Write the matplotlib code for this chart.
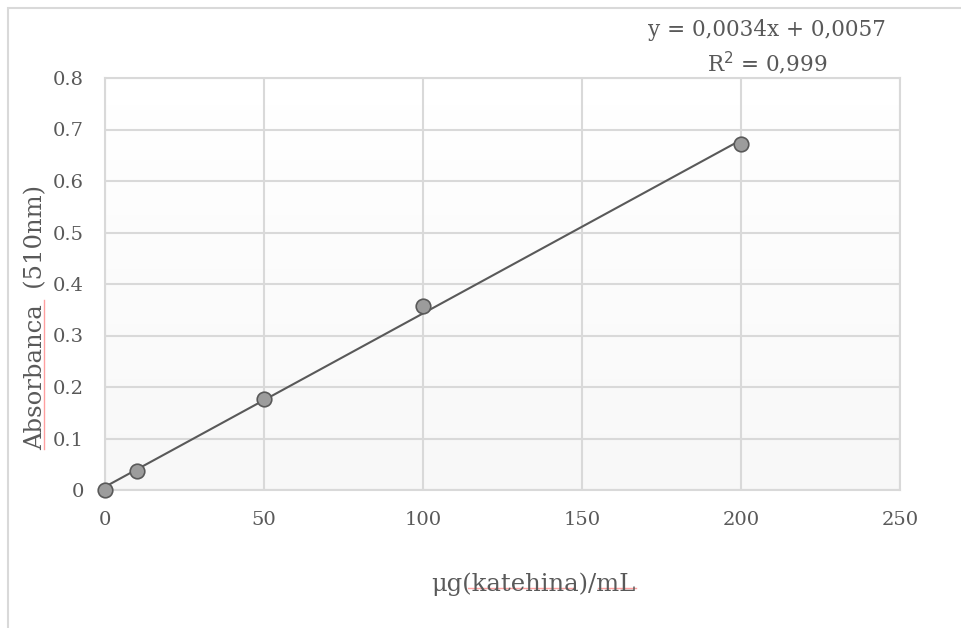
import numpy as np
import matplotlib.pyplot as plt
from matplotlib.patches import Rectangle
from matplotlib.lines import Line2D

conc = [0, 10, 50, 100, 200]
absorb = [0.0, 0.037, 0.177, 0.357, 0.672]
x_ticks = [0, 50, 100, 150, 200, 250]
y_ticks = [0, 0.1, 0.2, 0.3, 0.4, 0.5, 0.6, 0.7, 0.8]
y_labels = ['0', '0.1', '0.2', '0.3', '0.4', '0.5', '0.6', '0.7', '0.8']

plt.rcParams['font.family'] = ['DejaVu Serif']
txt = '#595959'
W, H = 961, 628

fig = plt.figure(figsize=(9.61, 6.28), dpi=100)
# chart border, only top and left sides visible in the crop
fig.patches.append(Rectangle((8 / W, -0.1), 1.2, 1 - 8 / H + 0.1, transform=fig.transFigure,
                             fill=False, edgecolor='#d9d9d9', linewidth=1.5))
ax = fig.add_axes([105 / W, 1 - 490 / H, 795 / W, 412 / H])

# gradient plot area: white at top, light grey at bottom
grad = np.linspace(0, 1, 256).reshape(-1, 1)
ax.imshow(grad, extent=[0, 250, 0, 0.8], aspect='auto', cmap='Greys_r',
          vmin=-16, vmax=1, zorder=0, origin='lower')

ax.set_xlim(0, 250)
ax.set_ylim(0, 0.8)
ax.set_xticks(x_ticks)
ax.set_yticks(y_ticks)
ax.set_yticklabels(y_labels)
ax.grid(True, color='#d9d9d9', linewidth=1.5, zorder=1)
for s in ax.spines.values():
    s.set_color('#d9d9d9')
    s.set_linewidth(1.5)
ax.tick_params(length=0, labelsize=14, colors=txt)
ax.tick_params(axis='x', pad=15)
ax.tick_params(axis='y', pad=15)

k, b = np.polyfit(conc, absorb, 1)
xs = np.array([0, 200])
ax.plot(xs, k * xs + b, color='#595959', linewidth=1.5, zorder=3)
ax.scatter(conc, absorb, s=110, color='#9c9c9c', edgecolor='#595959',
           linewidth=1.2, zorder=4, clip_on=False)

fig.text(533 / W, 1 - 584 / H, 'μg(katehina)/mL', ha='center', va='center',
         fontsize=17.5, color=txt)
fig.text(36 / W, 1 - 318 / H, 'Absorbanca  (510nm)', ha='center', va='center',
         rotation=90, fontsize=17.5, color=txt)
fig.text(767 / W, 1 - 30 / H, 'y = 0,0034x + 0,0057', ha='center', va='center',
         fontsize=15.5, color=txt)
fig.text(767 / W, 1 - 63 / H, 'R$^2$ = 0,999', ha='center', va='center',
         fontsize=15.5, color=txt)

# spell-check underlines from the screenshot
red = '#ff9f9f'
for x0, x1 in [(468, 573), (598, 636)]:
    fig.lines.append(Line2D([x0 / W, x1 / W], [1 - 588 / H] * 2, transform=fig.transFigure,
                            color=red, linewidth=1))
fig.lines.append(Line2D([44 / W] * 2, [1 - 300 / H, 1 - 449 / H], transform=fig.transFigure,
                        color=red, linewidth=1))

fig.savefig('out.png', dpi=100)
